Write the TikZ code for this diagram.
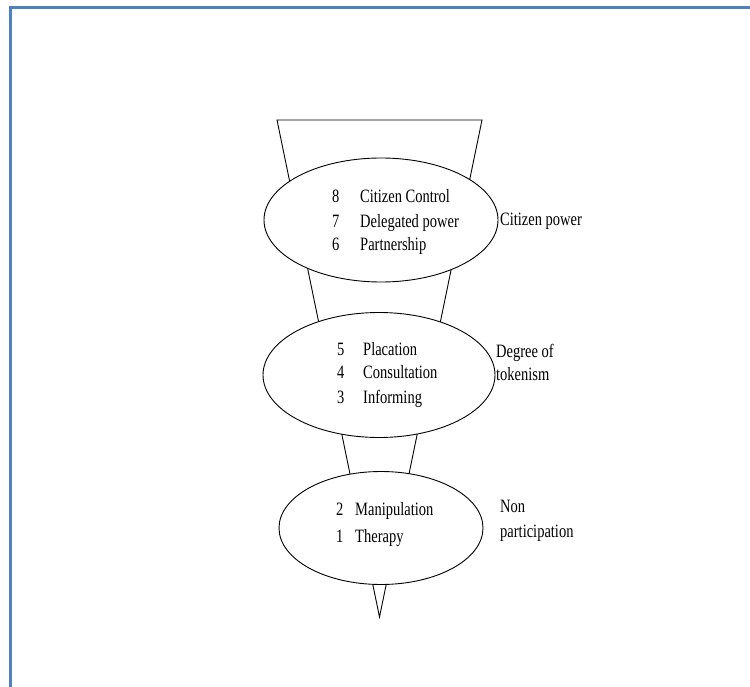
\documentclass[tikz,border=0pt]{standalone}
\usepackage{fontspec}
\usepackage{graphicx}
\setmainfont{Liberation Serif}
\usetikzlibrary{shapes.geometric}
\definecolor{frameblue}{RGB}{79,129,189}
\newcommand{\tallt}[1]{\scalebox{1}[1.3]{#1}}
\tikzset{
  lev/.style={draw=black, line width=0.9pt, fill=white, ellipse, inner sep=0pt},
  txt/.style={anchor=mid west, inner sep=0pt, yshift=-4pt, font=\fontsize{14.5}{17}\selectfont},
}
\begin{document}
\begin{tikzpicture}[x=1pt,y=-1pt]
\useasboundingbox (0,0) rectangle (750,687);
% frame
\draw[frameblue, line width=3pt] (10,687) -- (10,8) -- (750,8);
% funnel
\coordinate (tl) at (277,120);
\coordinate (tr) at (482,120);
\coordinate (apex) at (379.5,617);
\draw[line width=0.9pt] (tl) -- (tr) -- (apex) -- cycle;
% ellipses
\node[lev, minimum width=234, minimum height=124] (e1) at (381,220) {};
\node[lev, minimum width=232, minimum height=125] (e2) at (379,375) {};
\node[lev, minimum width=204, minimum height=113] (e3) at (381,528) {};
% ellipse 1 text
\node[txt] (n8) at (332,196) {\tallt{8}};
\node[txt] (t8) at (360,196) {\tallt{Citizen Control}};
\node[txt] (n7) at (332,221) {\tallt{7}};
\node[txt] (t7) at (360,221) {\tallt{Delegated power}};
\node[txt] (n6) at (332,244) {\tallt{6}};
\node[txt] (t6) at (360,244) {\tallt{Partnership}};
% ellipse 2 text
\node[txt] (n5) at (337,349) {\tallt{5}};
\node[txt] (t5) at (363,349) {\tallt{Placation}};
\node[txt] (n4) at (337,372) {\tallt{4}};
\node[txt] (t4) at (363,372) {\tallt{Consultation}};
\node[txt] (n3) at (337,397) {\tallt{3}};
\node[txt] (t3) at (363,397) {\tallt{Informing}};
% ellipse 3 text
\node[txt] (n2) at (336,509) {\tallt{2}};
\node[txt] (t2) at (355,509) {\tallt{Manipulation}};
\node[txt] (n1) at (336,536) {\tallt{1}};
\node[txt] (t1) at (355,536) {\tallt{Therapy}};
% side labels
\node[txt] (l1) at (500,219) {\tallt{Citizen power}};
\node[txt] (l2a) at (496,351) {\tallt{Degree of}};
\node[txt] (l2b) at (496,374) {\tallt{tokenism}};
\node[txt] (l3a) at (500,506) {\tallt{Non}};
\node[txt] (l3b) at (500,531) {\tallt{participation}};
\end{tikzpicture}
\end{document}
